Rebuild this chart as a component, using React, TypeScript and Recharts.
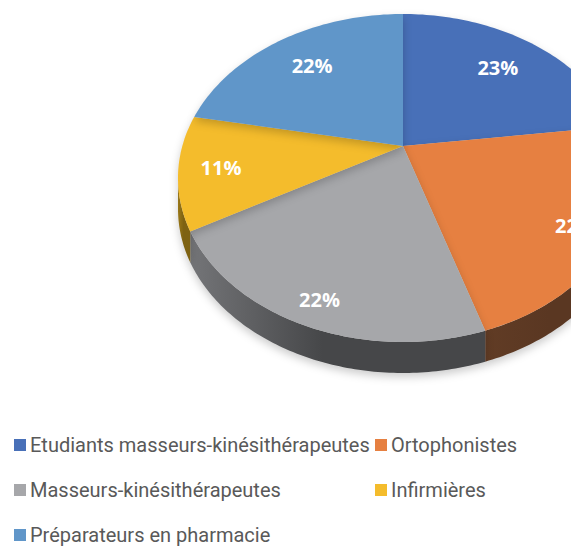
import React from "react";
import { PieChart, Pie, Cell, Legend } from "recharts";

const names = [
  "Etudiants masseurs-kinésithérapeutes",
  "Ortophonistes",
  "Masseurs-kinésithérapeutes",
  "Infirmières",
  "Préparateurs en pharmacie",
];
const values = [23, 22, 22, 11, 22];
const colors = ["#4870B8", "#E68041", "#A6A7AA", "#F4BC2C", "#6096C9"];
const sideLight = ["#3A5C99", "#613C25", "#747578", "#9A7818", "#4A78A8"];
const sideDark = ["#2C4675", "#5A3722", "#464749", "#7E6212", "#3B6088"];

const data = names.map((name, i) => ({ name, value: values[i] }));

// géométrie de la "3D" : apex (centre en perspective) + ellipse du dessus
const ECX = 403;
const ECY = 178;
const RX = 225;
const RY = 164;
const APEX_Y = 146;
const K = 0.73;
const DEPTH = 31;

const RAD = Math.PI / 180;

function rayPoint(angle: number, frac = 1) {
  const dx = Math.cos(angle * RAD);
  const dy = -K * Math.sin(angle * RAD);
  const oy = APEX_Y - ECY;
  const A = (dx * dx) / (RX * RX) + (dy * dy) / (RY * RY);
  const B = (2 * oy * dy) / (RY * RY);
  const C = (oy * oy) / (RY * RY) - 1;
  const t = (-B + Math.sqrt(B * B - 4 * A * C)) / (2 * A);
  return { x: ECX + dx * t * frac, y: APEX_Y + dy * t * frac };
}

function paramAngle(p: { x: number; y: number }) {
  return Math.atan2(-(p.y - ECY) / RY, (p.x - ECX) / RX) / RAD;
}

function ell(a: number, off = 0) {
  return `${(ECX + RX * Math.cos(a * RAD)).toFixed(2)},${(ECY - RY * Math.sin(a * RAD) + off).toFixed(2)}`;
}

function arcPts(from: number, to: number, off = 0) {
  const n = Math.max(2, Math.ceil(Math.abs(from - to)));
  const pts: string[] = [];
  for (let i = 0; i <= n; i++) pts.push(ell(from + ((to - from) * i) / n, off));
  return pts;
}

function SliceShape(props: any) {
  const { startAngle, endAngle, fill, payload } = props;
  const idx = names.indexOf(payload?.name ?? props.name);
  const p1 = rayPoint(startAngle);
  const p2 = rayPoint(endAngle);
  let a1 = paramAngle(p1);
  let a2 = paramAngle(p2);
  if (endAngle < startAngle) {
    while (a2 > a1) a2 -= 360;
  } else {
    while (a2 < a1) a2 += 360;
  }
  const hi = Math.max(a1, a2);
  const lo = Math.min(a1, a2);

  const sides: string[] = [];
  for (let k = -2; k <= 1; k++) {
    const l = Math.max(lo, -180 + 360 * k);
    const h = Math.min(hi, 360 * k);
    if (h > l) {
      const top = arcPts(h, l);
      const bottom = arcPts(l, h, DEPTH);
      sides.push("M" + top.join(" L") + " L" + bottom.join(" L") + " Z");
    }
  }

  const topPath = `M${ECX},${APEX_Y} L` + arcPts(a1, a2).join(" L") + " Z";

  return (
    <g>
      {sides.map((d, i) => (
        <path key={i} d={d} fill={`url(#side${idx})`} stroke="none" />
      ))}
      <path d={topPath} fill={fill} stroke="none" />
    </g>
  );
}

function renderLabel(props: any) {
  const { midAngle, percent } = props;
  // l'avant du disque est plus grand en perspective : étiquettes plus loin du centre
  const frac = 0.8 - 0.06 * Math.sin(midAngle * RAD);
  const p = rayPoint(midAngle, frac);
  return (
    <text
      x={p.x}
      y={p.y}
      fill="#FFFFFF"
      textAnchor="middle"
      dominantBaseline="central"
      fontFamily="'Open Sans', sans-serif"
      fontWeight={700}
      fontSize={20}
    >
      {`${Math.round(percent * 100)}%`}
    </text>
  );
}

function LegendContent() {
  const rows = [[0, 1], [2, 3], [4]];
  return (
    <div style={{ fontFamily: "Roboto, sans-serif", fontSize: 20, color: "#595959" }}>
      {rows.map((row, r) => (
        <div key={r} style={{ position: "relative", height: 45 }}>
          {row.map((i, c) => (
            <div
              key={i}
              style={{
                position: "absolute",
                left: c === 0 ? 14 : 375,
                top: 0,
                display: "flex",
                alignItems: "center",
                whiteSpace: "nowrap",
              }}
            >
              <span
                style={{
                  display: "inline-block",
                  width: 12,
                  height: 12,
                  background: colors[i],
                  marginRight: 4,
                }}
              />
              {names[i]}
            </div>
          ))}
        </div>
      ))}
    </div>
  );
}

export default function App() {
  return (
    <div style={{ position: "absolute", left: 0, top: 0, width: 571, height: 547, background: "#fff" }}>
      <style>{`.recharts-pie-sector { filter: drop-shadow(0px 4px 4px rgba(0,0,0,0.2)); }`}</style>
      <PieChart width={571} height={547}>
        <defs>
          {sideDark.map((c, i) => (
            <linearGradient key={i} id={`side${i}`} x1="0" y1="0" x2="1" y2="0">
              <stop offset="0%" stopColor={sideLight[i]} />
              <stop offset="45%" stopColor={c} />
              <stop offset="100%" stopColor={c} />
            </linearGradient>
          ))}
        </defs>
        <Pie
          data={data}
          dataKey="value"
          nameKey="name"
          cx={ECX}
          cy={APEX_Y}
          outerRadius={RX}
          startAngle={90}
          endAngle={-270}
          stroke="none"
          isAnimationActive={false}
          shape={SliceShape}
          label={renderLabel}
          labelLine={false}
        >
          {data.map((d, i) => (
            <Cell key={d.name} fill={colors[i]} />
          ))}
        </Pie>
        <Legend
          content={<LegendContent />}
          wrapperStyle={{ position: "absolute", left: 0, top: 433, width: 571 }}
        />
      </PieChart>
    </div>
  );
}
